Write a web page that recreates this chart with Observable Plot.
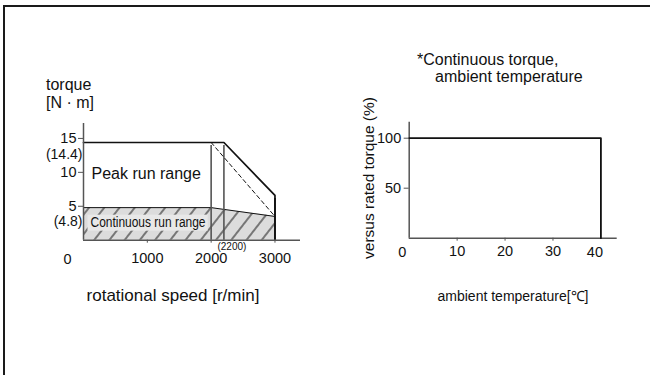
<!DOCTYPE html>
<html><head><meta charset="utf-8">
<script src="https://cdn.jsdelivr.net/npm/d3@7"></script>
<script src="https://cdn.jsdelivr.net/npm/@observablehq/plot@0.6"></script>
<style>
body{margin:0;background:#fff;}
#wrap{position:relative;width:650px;height:375px;overflow:hidden;font-family:"Liberation Sans",Arial,sans-serif;color:#111;}
#wrap svg{position:absolute;left:0;top:0;}
.t{position:absolute;font-size:16px;white-space:nowrap;line-height:18px;}
.c{transform:translate(-50%,-50%);}
.frame{position:absolute;left:3px;top:5px;width:700px;height:400px;border-top:2px solid #1a1a1a;border-left:2px solid #1a1a1a;}
</style></head>
<body><div id="wrap"><div class="frame"></div></div>
<script>
// ---- left chart: speed-torque ----
const peakSpeed = [0, 2200, 3000, 3000];
const peakTorque = [14.4, 14.4, 6.6, 0];
const contSpeed = [0, 2000, 3000];
const contTorque = [4.8, 4.8, 3.5];
const dashSpeed = [2000, 3000];
const dashTorque = [14.4, 3.5];
const guideSpeeds = [2000, 2200];
const guideTop = 14.4;
const edgeSpeed = 3000;
const speedTicks = [1000, 2000, 3000];
const torqueTicks = [5, 10, 15];
const torqueNotes = [14.4, 4.8];
// ---- right chart: ambient temperature ----
const tempX = [0, 40, 40];
const tempPct = [100, 100, 0];
const tempTicks = [10, 20, 30];
const pctTicks = [50, 100];

const FONT = '"Liberation Sans", Arial, sans-serif';
const INK = "#111";
const AX = "#555";
const TICKFS = 14.5;
const wrap = document.getElementById("wrap");

const peak = peakSpeed.map((s, i) => ({s, t: peakTorque[i]}));
const cont = contSpeed.map((s, i) => ({s, t: contTorque[i]}));
const dash = dashSpeed.map((s, i) => ({s, t: dashTorque[i]}));
const temp = tempX.map((x, i) => ({x, p: tempPct[i]}));

const defs = () => {
  const d = d3.create("svg:defs");
  const p = d.append("pattern").attr("id", "hatch").attr("patternUnits", "userSpaceOnUse")
    .attr("width", 12).attr("height", 12).attr("patternTransform", "rotate(38)");
  p.append("rect").attr("width", 12).attr("height", 12).attr("fill", "#dcdcdc");
  p.append("line").attr("x1", 6).attr("x2", 6).attr("y1", 0).attr("y2", 12)
    .attr("stroke", "#222").attr("stroke-width", 1.1);
  return d.node();
};

const left = Plot.plot({
  width: 650, height: 375,
  marginLeft: 83, marginRight: 350, marginTop: 123, marginBottom: 135.3,
  style: {fontFamily: FONT, fontSize: "14px", color: INK, background: "transparent"},
  x: {domain: [0, 3400], axis: null, label: null},
  y: {domain: [0, 17.2], axis: null, label: null},
  marks: [
    defs,
    Plot.areaY(cont, {x: "s", y: "t", fill: "url(#hatch)"}),
    Plot.line(cont, {x: "s", y: "t", stroke: INK, strokeWidth: 1}),
    Plot.ruleX(guideSpeeds, {y1: 0, y2: guideTop, stroke: "#555", strokeWidth: 1.6, insetBottom: -3}),
    Plot.line(dash, {x: "s", y: "t", stroke: INK, strokeWidth: 1, strokeDasharray: "4,3"}),
    Plot.line(peak, {x: "s", y: "t", stroke: INK, strokeWidth: 1.7}),
    Plot.ruleX([edgeSpeed], {y1: 0, y2: peakTorque[2], stroke: INK, strokeWidth: 1.7, insetBottom: -3}),
    Plot.ruleY([0], {stroke: AX, strokeWidth: 1.5}),
    Plot.ruleX([0], {y1: 0, y2: 17.2, stroke: AX, strokeWidth: 1.5}),
    Plot.axisX(speedTicks, {label: null, tickFormat: d => String(d), tickSize: 3, tickPadding: 10, stroke: AX, fontSize: TICKFS, fill: INK}),
    Plot.axisY(torqueTicks, {label: null, tickFormat: d => String(d), tickSize: 5, tickPadding: 2, stroke: AX, fontSize: TICKFS, fill: INK}),
    Plot.text([0], {x: d => d, y: 0, text: () => "0", dx: -16, dy: 19, fontSize: TICKFS, fill: INK}),
    Plot.text(torqueNotes, {x: 0, y: d => d, text: d => `(${d})`, textAnchor: "end", dx: -1,
      fontSize: 14, fill: INK, className: "note"}),
    Plot.text([guideSpeeds[1]], {x: d => d, y: 0, text: d => `(${d})`, dx: 8, dy: 7, fontSize: 10, fill: INK}),
    Plot.text(["Peak run range"], {frameAnchor: "top-left", lineAnchor: "middle", text: d => d, textAnchor: "start", dx: 8, dy: 50, fontSize: 16, fill: INK}),
    Plot.text(["Continuous run range"], {frameAnchor: "bottom-left", lineAnchor: "middle", text: d => d, textAnchor: "start", dx: 7, dy: -18, fontSize: 14, fill: INK, className: "contlabel"})
  ]
});
wrap.appendChild(left);

// position the two bracket notes under their tick labels
d3.select(left).selectAll("g.note text").each(function(_, i) {
  const t = d3.select(this).attr("transform") || "";
  d3.select(this).attr("transform", t + (i === 0 ? " translate(0,12)" : " translate(0,14)"));
});

// condense the continuous label and put a light box behind it
const cl = d3.select(left).select("g.contlabel text");
cl.attr("textLength", 115).attr("lengthAdjust", "spacingAndGlyphs");
{
  const bb = cl.node().getBBox();
  const tr = cl.attr("transform");
  d3.select(cl.node().parentNode).insert("rect", "text")
    .attr("transform", tr)
    .attr("x", bb.x - 3).attr("y", bb.y + 1).attr("width", bb.width + 5).attr("height", bb.height)
    .attr("fill", "#e8e8e8");
}

const right = Plot.plot({
  width: 650, height: 375,
  marginLeft: 408.7, marginRight: 33.3, marginTop: 121.7, marginBottom: 137.3,
  style: {fontFamily: FONT, fontSize: "14px", color: INK, background: "transparent"},
  x: {domain: [0, 43.4], axis: null, label: null},
  y: {domain: [0, 116], axis: null, label: null},
  marks: [
    Plot.ruleY([0], {stroke: AX, strokeWidth: 1.5}),
    Plot.ruleX([0], {y1: 0, y2: 116, stroke: AX, strokeWidth: 1.5}),
    Plot.line(temp, {x: "x", y: "p", stroke: INK, strokeWidth: 1.8}),
    Plot.axisX(tempTicks, {label: null, tickSize: 3, tickPadding: 5, stroke: AX, fontSize: TICKFS, fill: INK}),
    Plot.axisY(pctTicks, {label: null, tickSize: 5, tickPadding: 3, stroke: AX, fontSize: TICKFS, fill: INK}),
    Plot.text([0], {x: d => d, y: 0, text: () => "0", dx: -7, dy: 14, fontSize: TICKFS, fill: INK}),
    Plot.text([tempX[1]], {x: d => d, y: 0, text: d => String(d), dx: -6, dy: 14, fontSize: TICKFS, fill: INK})
  ]
});
wrap.appendChild(right);

// titles and axis labels
const labels = [
  {text: "torque", x: 46, y: 85, cls: "t"},
  {text: "[N · m]", x: 46, y: 103, cls: "t"},
  {text: "rotational speed [r/min]", x: 173, y: 296, cls: "t c", fs: 17},
  {text: "*Continuous torque,", x: 417, y: 60, cls: "t"},
  {text: "ambient temperature", x: 435, y: 77, cls: "t"},
  {text: "ambient temperature[℃]", x: 513, y: 296, cls: "t c", fs: 14},
  {text: "versus rated torque (%)", x: 369, y: 178, cls: "t c", rot: true, fs: 15.5}
];
for (const l of labels) {
  const d = document.createElement("div");
  d.className = l.cls;
  d.textContent = l.text;
  if (l.fs) d.style.fontSize = l.fs + "px";
  if (l.cls.includes("c")) {
    d.style.left = l.x + "px"; d.style.top = l.y + "px";
    if (l.rot) d.style.transform = "translate(-50%,-50%) rotate(-90deg)";
  } else {
    d.style.left = l.x + "px"; d.style.top = (l.y - 9) + "px";
  }
  wrap.appendChild(d);
}
</script>
</body></html>
